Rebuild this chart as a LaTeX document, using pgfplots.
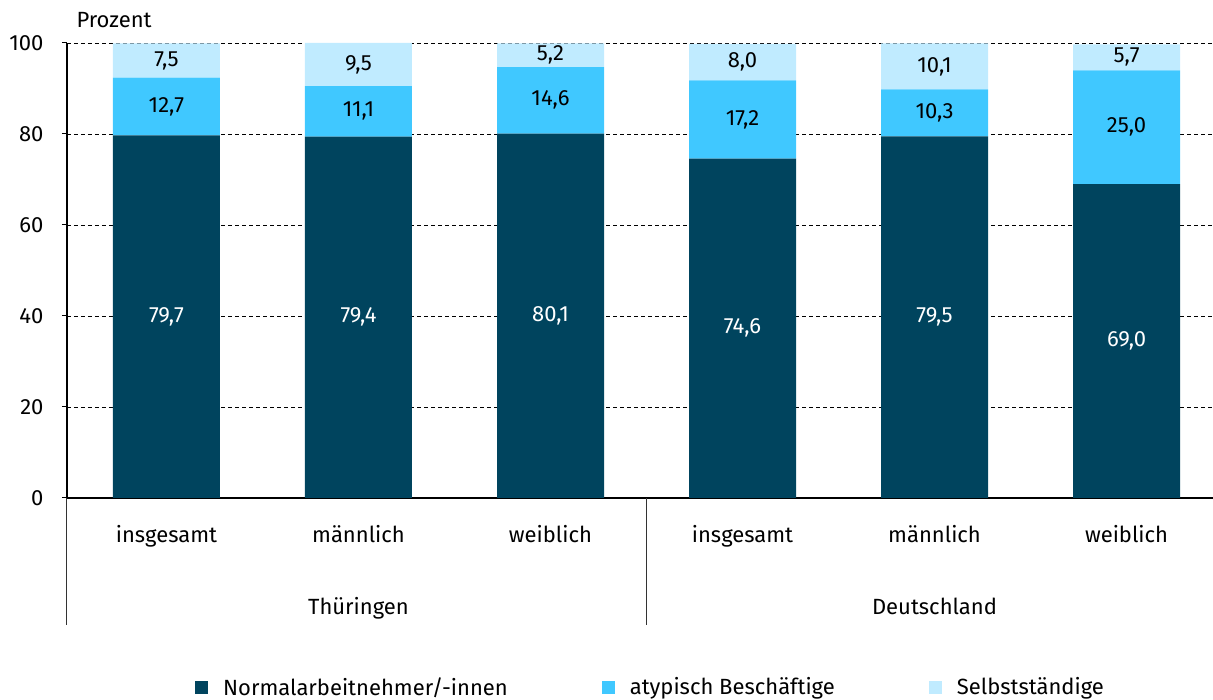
\documentclass[border=0pt]{standalone}
\usepackage{pgfplots}
\pgfplotsset{compat=1.18}
\usepackage{pgfplotstable}
\usepackage{fontspec}
\setmainfont{Fira Sans}
\definecolor{cDark}{RGB}{0,68,94}
\definecolor{cMid}{RGB}{64,200,255}
\definecolor{cLight}{RGB}{192,235,255}
\pgfplotstableread{
x normal atyp selb
0 79.7 12.7 7.5
1 79.4 11.1 9.5
2 80.1 14.6 5.2
3 74.6 17.2 8.0
4 79.5 10.3 10.1
5 69.0 25.0 5.7
}\datatab
\newcommand\fnt{\fontsize{22}{26}\selectfont}
\pgfplotsset{
  common/.style={
    scale only axis, width=1146pt, height=455pt,
    xmin=-0.518, xmax=5.45, ymin=0, ymax=100,
    font=\fnt,
    /pgf/number format/assume math mode=true,
  }
}
\begin{document}
\begin{tikzpicture}
\path[use as bounding box] (-67pt,-202pt) rectangle (1146pt,498pt);
\begin{axis}[common,
  ybar stacked, bar width=107pt,
  axis x line=bottom, axis y line=left,
  axis line style={-, line width=1.2pt, black},
  xtick={0,1,2,3,4,5},
  xticklabels={insgesamt,männlich,weiblich,insgesamt,männlich,weiblich},
  xtick style={draw=none},
  xticklabel style={anchor=base, yshift=-40pt},
  extra x ticks={-0.518,2.5},
  extra x tick labels={},
  extra x tick style={xtick style={draw=black!80, line width=1pt}, tick align=outside, major tick length=127pt, xmajorgrids=false},
  ytick={0,20,40,60,80,100},
  ymajorgrids,
  major grid style={dashed, black, line width=0.8pt, dash pattern=on 4pt off 3pt},
  ytick style={black, line width=1pt},
  tick align=outside, major tick length=5pt,
  yticklabel style={anchor=east, xshift=-15pt},
  clip=false,
  legend columns=3,
  legend style={at={(0.1117,-0.4154)}, anchor=west, draw=none, inner sep=0pt,
    font=\fnt,
    /tikz/every even column/.append style={column sep=92pt}},
  legend image code/.code={\fill[#1] (0pt,-6.5pt) rectangle (13pt,6.5pt);},
  legend cell align=left,
]
\addplot[fill=cDark, draw=none] table[x=x, y=normal] {\datatab};
\addplot[fill=cMid, draw=none] table[x=x, y=atyp] {\datatab};
\addplot[fill=cLight, draw=none] table[x=x, y=selb] {\datatab};
\legend{\hspace*{13pt}Normalarbeitnehmer/-innen,\hspace*{13pt}atypisch Beschäftige,\hspace*{13pt}Selbstständige}
\node[anchor=base west] at (rel axis cs:0,1) [xshift=6pt, yshift=15pt] {Prozent};
\node[anchor=base] at (axis cs:1,0) [yshift=-117pt] {Thüringen};
\node[anchor=base] at (axis cs:4,0) [yshift=-117pt] {Deutschland};
\end{axis}
\begin{axis}[common, hide axis,
  nodes near coords,
  point meta=explicit,
  nodes near coords={\pgfmathprintnumber[fixed, fixed zerofill, precision=1, use comma]{\pgfplotspointmeta}},
  every node near coord/.append style={anchor=center, font=\fnt},
]
\addplot[only marks, mark=none, every node near coord/.append style={text=white}]
  table[x=x, y expr=\thisrow{normal}/2, meta=normal] {\datatab};
\addplot[only marks, mark=none, every node near coord/.append style={text=black}]
  table[x=x, y expr=\thisrow{normal}+\thisrow{atyp}/2, meta=atyp] {\datatab};
\addplot[only marks, mark=none, every node near coord/.append style={text=black}]
  table[x=x, y expr=\thisrow{normal}+\thisrow{atyp}+\thisrow{selb}/2, meta=selb] {\datatab};
\end{axis}
\end{tikzpicture}
\end{document}
